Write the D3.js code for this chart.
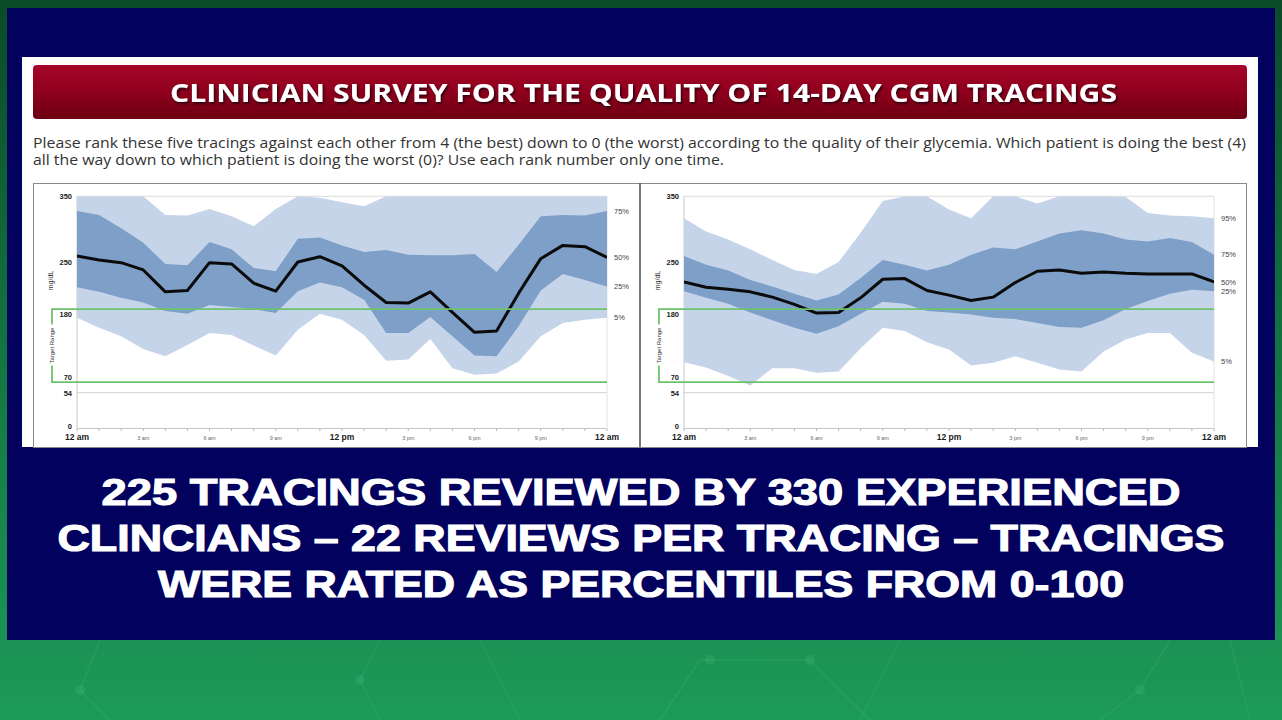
<!DOCTYPE html>
<html><head><meta charset="utf-8">
<script src="https://cdn.jsdelivr.net/npm/d3@7/dist/d3.min.js"></script>
<style>html,body{margin:0;padding:0;background:#0c4d2a;overflow:hidden}</style>
</head><body>
<svg id="c" width="1282" height="720" xmlns="http://www.w3.org/2000/svg"></svg>
<script>
// ---------- data ----------
const HOURS = [0,1,2,3,4,5,6,7,8,9,10,11,12,13,14,15,16,17,18,19,20,21,22,23,24];
const X_TICK_HOURS = [0,3,6,9,12,15,18,21,24];
const X_TICK_LABELS = ["12 am","3 am","6 am","9 am","12 pm","3 pm","6 pm","9 pm","12 am"];
const X_TICK_BOLD = [true,false,false,false,true,false,false,false,true];
const Y_TICKS = [0,54,70,180,250,350];
const TARGET_RANGE = [70,180];

// Left tracing (mg/dL, hourly)
const LEFT_P95 = [350,350,350,350,322,321,331,320,305,331,350,348,341,335,350,350,350,350,350,350,350,350,350,350,350];
const LEFT_P75 = [328,322,302,280,248,246,281,270,242,237,286,288,276,266,269,262,261,261,263,236,277,320,322,321,328];
const LEFT_P50 = [260,254,250,239,206,208,250,248,219,207,251,259,245,216,190,189,206,175,145,147,204,256,276,274,258];
const LEFT_P25 = [213,206,197,190,177,173,186,183,180,174,207,220,213,194,144,144,168,139,110,109,154,208,233,224,214];
const LEFT_P5  = [167,152,139,120,109,126,144,141,125,110,149,173,164,141,102,104,135,91,81,83,101,139,159,164,167];
const LEFT_PCT_LABELS = ["75%","50%","25%","5%"];

// Right tracing (mg/dL, hourly)
const RIGHT_P95 = [317,297,285,270,254,239,233,251,295,343,350,350,330,317,350,350,339,350,350,350,349,325,321,320,317];
const RIGHT_P75 = [260,247,238,224,214,203,193,202,227,254,247,238,247,262,273,270,282,294,299,294,285,282,287,281,262];
const RIGHT_P50 = [221,213,210,206,198,187,174,175,197,225,226,208,201,193,198,220,237,239,234,236,234,233,233,233,221];
const RIGHT_P25 = [207,197,188,175,163,152,143,154,173,191,188,177,175,172,167,165,159,153,152,163,180,192,203,209,207];
const RIGHT_P5  = [100,92,79,65,91,91,84,86,121,152,147,130,119,95,99,109,99,89,86,116,134,144,144,114,101];
const RIGHT_PCT_LABELS = ["95%","75%","50%","25%","5%"];

const TITLE = "CLINICIAN SURVEY FOR THE QUALITY OF 14-DAY CGM TRACINGS";
const INSTRUCTIONS = [
  "Please rank these five tracings against each other from 4 (the best) down to 0 (the worst) according to the quality of their glycemia. Which patient is doing the best (4)",
  "all the way down to which patient is doing the worst (0)? Use each rank number only one time."
];
const CAPTION = [
  "225 TRACINGS REVIEWED BY 330 EXPERIENCED",
  "CLINCIANS \u2013 22 REVIEWS PER TRACING \u2013 TRACINGS",
  "WERE RATED AS PERCENTILES FROM 0-100"
];

// ---------- drawing ----------
const svg = d3.select("#c");
const defs = svg.append("defs");

const bgGrad = defs.append("linearGradient").attr("id","bg").attr("x1",0).attr("y1",0).attr("x2",0).attr("y2",1);
bgGrad.append("stop").attr("offset","0%").attr("stop-color","#0b4a28");
bgGrad.append("stop").attr("offset","55%").attr("stop-color","#137a44");
bgGrad.append("stop").attr("offset","100%").attr("stop-color","#1d9a58");
svg.append("rect").attr("width",1282).attr("height",720).attr("fill","url(#bg)");

// faint network pattern in the green area
const netLines = [[100,640,80,690],[80,690,110,720],[380,640,360,680],[360,680,380,720],[700,660,810,660],[700,660,660,720],[810,660,870,720],[900,640,860,720],[1140,690,1170,640],[1140,690,1100,720],[1230,640,1250,720],[480,640,520,720]];
svg.append("g").selectAll("line").data(netLines).join("line")
  .attr("x1",d=>d[0]).attr("y1",d=>d[1]).attr("x2",d=>d[2]).attr("y2",d=>d[3])
  .attr("stroke","#6fd39a").attr("stroke-opacity",0.13).attr("stroke-width",1.5);
svg.append("g").selectAll("circle").data([[80,690],[360,680],[710,660],[810,660],[1140,690]]).join("circle")
  .attr("cx",d=>d[0]).attr("cy",d=>d[1]).attr("r",5).attr("fill","#6fd39a").attr("fill-opacity",0.15);

// navy panel
svg.append("rect").attr("x",7).attr("y",8).attr("width",1268).attr("height",632).attr("fill","#02025e");

// white card
svg.append("rect").attr("x",22).attr("y",57).attr("width",1236).attr("height",390).attr("fill","#ffffff");

// red title bar
const redGrad = defs.append("linearGradient").attr("id","red").attr("x1",0).attr("y1",0).attr("x2",0).attr("y2",1);
redGrad.append("stop").attr("offset","0%").attr("stop-color","#a60528");
redGrad.append("stop").attr("offset","50%").attr("stop-color","#8f001d");
redGrad.append("stop").attr("offset","100%").attr("stop-color","#6d0012");
svg.append("rect").attr("x",33).attr("y",65).attr("width",1214).attr("height",54).attr("rx",4)
  .attr("fill","url(#red)");
const sh = defs.append("filter").attr("id","tsh").attr("x","-5%").attr("y","-30%").attr("width","110%").attr("height","160%");
sh.append("feDropShadow").attr("dx",1.5).attr("dy",2).attr("stdDeviation",1.2).attr("flood-color","#2a0008").attr("flood-opacity",0.9);
svg.append("text").attr("x",643.5).attr("y",101.5).attr("text-anchor","middle")
  .attr("font-family","'Open Sans', sans-serif").attr("font-weight",700).attr("font-size",25)
  .attr("fill","#ffffff").attr("filter","url(#tsh)")
  .attr("textLength",947).attr("lengthAdjust","spacingAndGlyphs").text(TITLE);

// instructions
const instrW = [1213, 691];
svg.append("g").selectAll("text").data(INSTRUCTIONS).join("text")
  .attr("x",33).attr("y",(d,i)=>147.5+i*17)
  .attr("font-family","'Open Sans', sans-serif").attr("font-size",14.5).attr("fill","#333")
  .attr("textLength",(d,i)=>instrW[i]).attr("lengthAdjust","spacingAndGlyphs")
  .text(d=>d);

// chart frame
svg.append("rect").attr("x",33.5).attr("y",183.5).attr("width",1213).attr("height",264)
  .attr("fill","#fff").attr("stroke","#8a8a8a").attr("stroke-width",1);
svg.append("line").attr("x1",640).attr("x2",640).attr("y1",183).attr("y2",447)
  .attr("stroke","#555").attr("stroke-width",1.6);

const PLOT_W = 530;
const yScale = d3.scaleLinear().domain([0,350]).range([428.5,196.3]).clamp(true);

function drawAGP(x0, p5, p25, p50, p75, p95, pctLabels, pctSeries, clipId) {
  const g = svg.append("g");
  const x = d3.scaleLinear().domain([0,24]).range([x0, x0+PLOT_W]);
  const y = yScale;
  const rows = HOURS.map((h,i)=>({h, p5:p5[i], p25:p25[i], p50:p50[i], p75:p75[i], p95:p95[i]}));

  defs.append("clipPath").attr("id",clipId).append("rect")
    .attr("x",x0).attr("y",y(350)).attr("width",PLOT_W).attr("height",y(0)-y(350));

  // grid/frame
  g.append("line").attr("x1",x0).attr("x2",x0+PLOT_W).attr("y1",y(350)).attr("y2",y(350)).attr("stroke","#dcdcdc");
  g.append("line").attr("x1",x0).attr("x2",x0+PLOT_W).attr("y1",y(54)).attr("y2",y(54)).attr("stroke","#d0d0d0");
  g.append("line").attr("x1",x0).attr("x2",x0+PLOT_W).attr("y1",y(0)).attr("y2",y(0)).attr("stroke","#c8c8c8");
  g.append("line").attr("x1",x0).attr("x2",x0).attr("y1",y(350)).attr("y2",y(0)).attr("stroke","#c8c8c8");
  g.append("line").attr("x1",x0+PLOT_W).attr("x2",x0+PLOT_W).attr("y1",y(350)).attr("y2",y(0)).attr("stroke","#e2e2e2");

  const pg = g.append("g").attr("clip-path",`url(#${clipId})`);
  pg.append("path").datum(rows).attr("fill","#c6d4e9")
    .attr("d", d3.area().x(d=>x(d.h)).y0(d=>y(d.p5)).y1(d=>y(d.p95)));
  pg.append("path").datum(rows).attr("fill","#7d9fc8")
    .attr("d", d3.area().x(d=>x(d.h)).y0(d=>y(d.p25)).y1(d=>y(d.p75)));

  // target range
  const tx = x0 - 25;
  const green = "#6cc36c";
  TARGET_RANGE.forEach(v=>{
    g.append("line").attr("x1",tx).attr("x2",x0+PLOT_W).attr("y1",y(v)).attr("y2",y(v))
      .attr("stroke",green).attr("stroke-width",1.8);
  });
  const tMid = (y(70)+y(180))/2 + 3;
  g.append("line").attr("x1",tx).attr("x2",tx).attr("y1",y(180)-0.9).attr("y2",tMid-24).attr("stroke",green).attr("stroke-width",1.8);
  g.append("line").attr("x1",tx).attr("x2",tx).attr("y1",tMid+17).attr("y2",y(70)+0.9).attr("stroke",green).attr("stroke-width",1.8);
  g.append("text").attr("transform",`translate(${tx+2},${tMid-3}) rotate(-90)`).attr("text-anchor","middle")
    .attr("font-family","'Liberation Sans', Arial, sans-serif").attr("font-size",6).attr("fill","#333")
    .text("Target Range");

  // median line
  pg.append("path").datum(rows).attr("fill","none").attr("stroke","#0b0b0b").attr("stroke-width",3)
    .attr("stroke-linejoin","round")
    .attr("d", d3.line().x(d=>x(d.h)).y(d=>y(d.p50)));

  // y tick labels
  const yOff = {0:-2, 54:1, 70:-5, 180:5, 250:0, 350:0};
  g.append("g").selectAll("text").data(Y_TICKS).join("text")
    .attr("x",x0-5).attr("y",v=>y(v)+yOff[v]).attr("dy","0.35em").attr("text-anchor","end")
    .attr("font-family","'Liberation Sans', Arial, sans-serif").attr("font-weight",700).attr("font-size",7.5)
    .attr("fill","#222").text(v=>v);
  g.append("text").attr("transform",`translate(${x0-24},${y(223)}) rotate(-90)`).attr("text-anchor","middle")
    .attr("font-family","'Liberation Sans', Arial, sans-serif").attr("font-size",7).attr("fill","#333")
    .text("mg/dL");

  // x ticks
  g.append("g").selectAll("line").data(HOURS).join("line")
    .attr("x1",h=>x(h)).attr("x2",h=>x(h)).attr("y1",y(0)).attr("y2",y(0)+2.5)
    .attr("stroke","#b5b5b5");
  g.append("g").selectAll("text").data(X_TICK_HOURS).join("text")
    .attr("x",h=>x(h)).attr("y",439.5).attr("text-anchor","middle")
    .attr("font-family","'Liberation Sans', Arial, sans-serif")
    .attr("font-weight",(h,i)=>X_TICK_BOLD[i]?700:400)
    .attr("font-size",(h,i)=>X_TICK_BOLD[i]?8.5:5.5)
    .attr("fill",(h,i)=>X_TICK_BOLD[i]?"#1a1a1a":"#666")
    .text((h,i)=>X_TICK_LABELS[i]);

  // percentile labels at the right end
  g.append("g").selectAll("text").data(pctLabels).join("text")
    .attr("x",x0+PLOT_W+7).attr("y",(d,i)=>y(pctSeries[i][pctSeries[i].length-1])).attr("dy","0.35em")
    .attr("font-family","'Liberation Sans', Arial, sans-serif").attr("font-size",7.5).attr("fill","#444")
    .text(d=>d);
}

drawAGP(77, LEFT_P5, LEFT_P25, LEFT_P50, LEFT_P75, LEFT_P95, LEFT_PCT_LABELS,
        [LEFT_P75, LEFT_P50, LEFT_P25, LEFT_P5], "clipL");
drawAGP(684, RIGHT_P5, RIGHT_P25, RIGHT_P50, RIGHT_P75, RIGHT_P95, RIGHT_PCT_LABELS,
        [RIGHT_P95, RIGHT_P75, RIGHT_P50, RIGHT_P25, RIGHT_P5], "clipR");

// caption
const capW = [1079, 1167, 966];
svg.append("g").selectAll("text").data(CAPTION).join("text")
  .attr("x",641).attr("y",(d,i)=>504.5+i*46).attr("text-anchor","middle")
  .attr("font-family","'Liberation Sans', Arial, sans-serif").attr("font-weight",700).attr("font-size",36)
  .attr("fill","#ffffff").attr("stroke","#ffffff").attr("stroke-width",1.1)
  .attr("textLength",(d,i)=>capW[i]).attr("lengthAdjust","spacingAndGlyphs")
  .text(d=>d);
</script>
</body></html>
